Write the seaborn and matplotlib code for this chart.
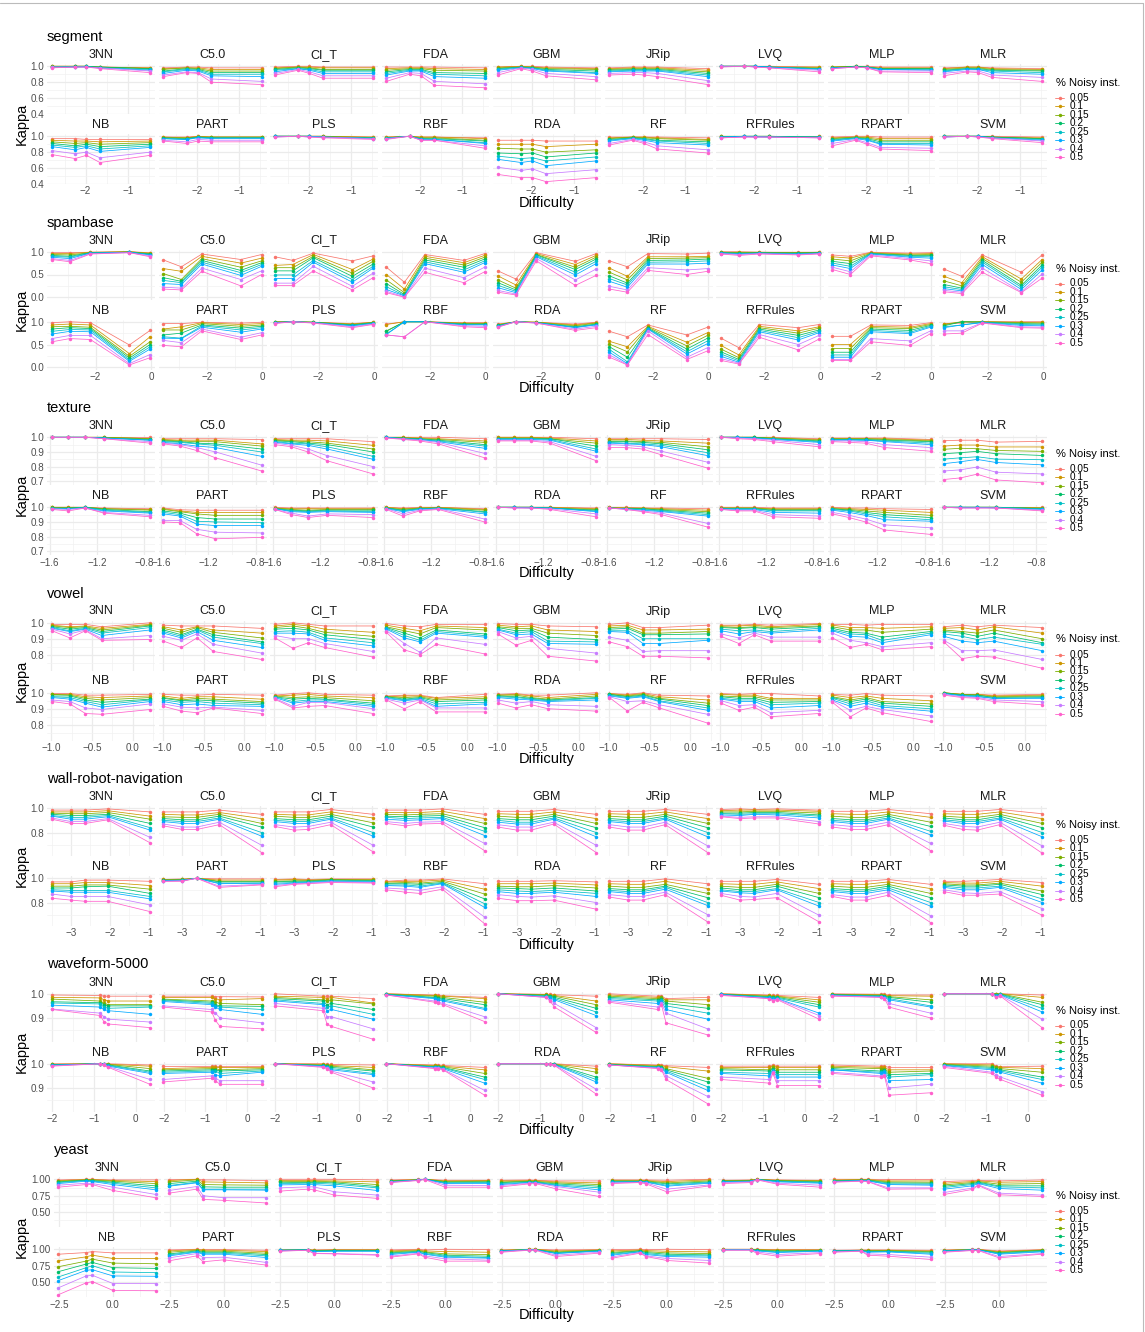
import numpy as np
import pandas as pd
import matplotlib
matplotlib.use("Agg")
import matplotlib.pyplot as plt
import seaborn as sns
from matplotlib.lines import Line2D

sns.set_theme(style="white")
plt.rcParams['font.family'] = ['Liberation Sans', 'DejaVu Sans']

W, H = 1145, 1332

classifiers = ["3NN", "C5.0", "CI_T", "FDA", "GBM", "JRip", "LVQ", "MLP", "MLR",
               "NB", "PART", "PLS", "RBF", "RDA", "RF", "RFRules", "RPART", "SVM"]
noise_levels = ["0.05", "0.1", "0.15", "0.2", "0.25", "0.3", "0.4", "0.5"]
palette = ["#F8766D", "#CD9600", "#7CAE00", "#00BE67", "#00BFC4", "#00A9FF", "#C77CFF", "#FF61CC"]
datasets = ["segment", "spambase", "texture", "vowel", "wall-robot-navigation", "waveform-5000", "yeast"]

# ---------------- data (Kappa x 100, one string per noise level, one value per difficulty point)
segment_x = [-2.80, -2.25, -1.98, -1.66, -0.47]
segment_kappa = {
 "3NN": ["100 100 100 99 98", "100 100 100 99 98", "100 100 100 99 97", "99 100 100 99 97", "99 99 100 98 96", "99 99 99 98 95", "99 99 99 98 94", "98 99 99 97 92"],
 "C5.0": ["98 99 99 98 98", "97 98 98 96 96", "96 98 97 94 94", "94 97 96 92 92", "93 96 95 90 90", "91 95 94 88 87", "89 93 92 84 81", "87 92 91 80 77"],
 "CI_T": ["99 100 100 99 99", "98 99 99 98 98", "97 99 98 96 96", "96 98 97 95 95", "95 97 96 93 93", "93 97 95 91 91", "91 96 93 88 88", "89 95 91 85 85"],
 "FDA": ["99 99 99 99 98", "97 98 98 97 96", "95 97 97 95 94", "93 96 96 92 91", "91 95 95 90 88", "89 94 94 87 85", "85 92 91 81 78", "81 90 88 76 73"],
 "GBM": ["99 100 100 99 98", "99 100 99 98 97", "98 99 99 97 96", "97 99 98 96 94", "96 99 98 95 92", "95 98 97 94 91", "92 98 96 91 87", "89 97 94 88 83"],
 "JRip": ["98 99 99 99 97", "97 98 98 98 95", "96 97 97 97 93", "95 96 96 96 91", "94 95 95 95 89", "93 94 94 94 87", "91 92 92 91 82", "89 90 89 87 77"],
 "LVQ": ["100 100 100 100 99", "100 100 100 99 99", "100 100 100 99 98", "100 100 100 99 97", "100 100 100 99 97", "100 100 100 99 96", "100 100 99 98 95", "99 100 99 98 93"],
 "MLP": ["99 100 100 99 99", "99 100 99 98 98", "99 100 99 97 97", "98 100 99 97 97", "98 99 99 96 96", "98 99 98 96 95", "97 99 98 94 94", "97 99 98 93 92"],
 "MLR": ["98 99 99 98 97", "97 99 99 97 96", "96 98 98 96 95", "95 97 97 95 94", "94 97 96 94 92", "93 96 96 92 90", "91 94 94 89 86", "88 93 92 86 81"],
 "NB": ["97 97 96 96 96", "95 94 94 93 94", "93 91 92 90 92", "91 88 90 87 90", "89 86 88 84 88", "87 83 86 81 86", "82 78 80 73 80", "77 72 76 67 76"],
 "PART": ["99 99 100 99 99", "99 98 100 99 99", "98 98 99 99 99", "98 97 99 98 98", "97 96 99 98 98", "97 96 98 97 97", "95 93 96 95 95", "94 91 94 93 93"],
 "PLS": ["100 100 100 100 99", "100 100 100 100 99", "100 100 100 100 98", "100 100 100 99 98", "100 100 100 99 98", "100 100 100 99 97", "99 100 99 99 97", "99 100 99 98 96"],
 "RBF": ["99 100 99 99 98", "99 100 99 99 97", "98 100 98 98 95", "98 100 97 97 94", "98 100 97 96 92", "97 100 96 96 91", "97 100 95 95 88", "96 100 95 95 85"],
 "RDA": ["95 95 95 94 94", "90 90 90 87 90", "85 84 84 80 83", "79 78 79 74 79", "75 72 73 69 74", "71 67 69 63 69", "61 57 59 53 58", "52 48 48 43 48"],
 "RF": ["99 99 99 99 98", "98 99 99 98 96", "97 99 98 97 95", "96 98 97 95 93", "95 98 96 94 91", "94 97 95 92 89", "91 96 93 88 83", "89 95 91 84 79"],
 "RFRules": ["100 100 100 100 100", "100 100 100 100 100", "100 100 100 100 99", "99 100 100 100 99", "99 100 100 99 99", "99 100 99 99 99", "98 99 99 99 98", "98 99 99 99 98"],
 "RPART": ["99 100 100 99 99", "98 99 99 97 97", "97 99 98 95 95", "96 98 97 93 93", "95 98 96 91 91", "94 97 95 90 89", "91 96 92 86 85", "88 95 90 84 82"],
 "SVM": ["100 100 100 100 99", "100 100 100 99 98", "100 100 100 99 97", "100 100 100 99 97", "100 100 100 98 96", "99 100 100 98 95", "99 100 99 98 94", "99 100 99 97 92"],
}

spambase_x = [-3.58, -2.93, -2.19, -0.78, -0.03]
spambase_kappa = {
 "3NN": ["98 98 99 100 98", "96 96 99 100 97", "94 93 98 100 96", "92 90 98 99 95", "90 88 97 99 94", "88 85 97 99 93", "85 81 96 98 91", "83 78 95 98 89"],
 "C5.0": ["82 67 95 83 94", "63 57 90 75 86", "52 39 85 66 80", "43 35 81 59 76", "37 32 77 54 72", "30 28 73 48 68", "22 20 64 39 58", "18 16 57 25 50"],
 "CI_T": ["89 81 97 80 91", "70 72 94 61 84", "65 65 90 53 79", "58 58 87 46 73", "49 49 81 39 68", "41 41 77 33 64", "31 31 68 24 53", "26 26 58 16 43"],
 "FDA": ["66 33 94 81 96", "50 18 90 76 92", "38 10 86 71 88", "30 6 82 66 84", "23 4 78 60 80", "17 3 74 55 76", "13 1 64 43 66", "10 0 55 32 56"],
 "GBM": ["58 40 98 79 96", "47 27 96 72 92", "38 20 94 66 88", "32 16 93 61 84", "26 13 91 55 79", "21 10 89 49 74", "15 7 85 38 62", "11 5 80 26 48"],
 "JRip": ["80 67 96 95 97", "64 46 89 89 90", "55 38 85 86 87", "47 31 81 82 84", "41 27 77 78 80", "35 22 73 73 75", "24 16 65 60 63", "18 11 59 50 57"],
 "LVQ": ["100 100 99 99 99", "99 99 99 98 99", "99 98 98 98 98", "98 97 98 97 98", "98 96 97 96 97", "97 95 97 95 97", "96 94 96 94 96", "95 92 95 93 95"],
 "MLP": ["93 90 99 97 98", "89 86 98 95 96", "84 80 97 93 94", "79 74 96 92 92", "75 68 96 90 89", "71 63 95 88 86", "66 56 93 85 80", "61 50 91 82 74"],
 "MLR": ["62 46 93 55 93", "46 32 89 40 83", "36 25 85 33 77", "28 20 81 26 71", "23 17 77 22 66", "19 14 72 17 60", "15 11 64 12 51", "12 8 55 10 42"],
 "NB": ["98 100 98 49 81", "93 95 93 30 67", "89 90 88 24 56", "84 87 85 20 50", "79 83 82 16 45", "73 79 78 13 40", "63 70 70 8 28", "56 63 61 5 21"],
 "PART": ["96 96 99 97 99", "84 89 98 94 96", "82 82 96 90 93", "71 75 93 86 90", "67 64 91 82 87", "64 63 88 77 84", "59 54 84 66 76", "48 45 80 61 71"],
 "PLS": ["100 100 99 96 99", "100 100 99 95 99", "99 100 99 94 98", "99 100 99 93 98", "98 100 98 92 97", "98 100 98 91 96", "97 100 98 89 95", "96 100 97 87 94"],
 "RBF": ["95 100 100 98 98", "94 100 100 97 97", "80 100 100 96 96", "79 100 100 95 95", "73 100 100 94 94", "72 100 100 93 93", "71 67 100 91 90", "71 67 100 89 87"],
 "RDA": ["95 100 99 95 99", "94 100 99 93 98", "93 100 99 91 97", "92 100 98 89 95", "91 100 98 88 94", "90 100 98 87 93", "89 100 97 84 90", "88 100 97 81 87"],
 "RF": ["79 67 93 71 88", "57 45 90 55 76", "51 34 88 47 70", "45 22 86 40 64", "39 12 85 34 58", "33 8 84 29 52", "27 6 80 22 43", "22 5 72 17 36"],
 "RFRules": ["64 43 94 87 94", "48 27 90 80 89", "40 21 87 75 86", "34 17 84 70 82", "29 14 81 65 79", "24 11 78 60 76", "19 9 72 50 70", "15 7 66 38 62"],
 "RPART": ["68 68 93 92 98", "50 50 90 88 96", "41 41 87 85 94", "33 33 84 81 92", "27 27 81 77 90", "22 22 78 74 88", "17 17 63 58 80", "15 15 56 48 74"],
 "SVM": ["96 97 100 100 100", "95 100 100 99 99", "93 100 100 98 97", "91 100 99 96 95", "89 93 99 94 93", "87 93 98 92 91", "80 80 98 89 88", "73 75 97 87 86"],
}

texture_x = [-1.58, -1.44, -1.30, -1.14, -0.75]
texture_kappa = {
 "3NN": ["100 100 100 100 100", "100 100 100 100 99", "100 100 100 100 99", "100 100 100 99.5 98.5", "100 100 100 99.5 98", "100 100 100 99.5 98", "100 100 100 99 97", "100 100 100 99 96"],
 "C5.0": ["99 99 99 99 98.4", "98.5 98 98 98 95.5", "98 97.5 97 97 94", "97.5 97 96 95.5 92", "97 96.5 95.5 94.5 90", "96.5 95.5 94 93 87", "96 95 93 90 81", "95.5 94 91 86 77"],
 "CI_T": ["99 99 99 99 97", "98.5 98 98 97.5 94.5", "98 97.5 97 96 92", "97.5 97 96 95 90", "97 96 95.5 93.5 87", "96.5 95.5 94.5 92 85", "96 94.5 92 87.5 80", "95 93.5 90 84 75"],
 "FDA": ["100 100 100 100 99", "100 100 99.5 99 97.5", "100 99.5 99 98.5 96.5", "100 99.5 99 98 95", "100 99 98.5 97.5 94", "100 99 98.5 97 92.5", "99.5 99 98 96.5 89", "99.5 98.5 97.5 95.5 86"],
 "GBM": ["100 100 100 100 99", "100 100 100 99.5 97.5", "99.5 99.5 99.5 99 96", "99 99 99 99 94", "99 99 99 98.5 92", "98.5 98.5 98.5 98 90.5", "98 98 98 97 87", "97.5 97.5 97.5 96 84"],
 "JRip": ["99 99 99 99 98.5", "98.5 98.5 98 97.5 96", "97.5 97.5 97 96.5 93.5", "97 97 96.5 95.5 91.5", "96.5 96 95.5 94.5 89.5", "96 95.5 95 93.5 87.5", "95 94.5 93.5 90.5 83", "93 93 92 88 79"],
 "LVQ": ["100 100 100 100 99", "100 100 100 99.5 98.5", "100 100 100 99.5 98", "100 100 100 99 97.5", "100 100 99.5 99 97", "100 100 99.5 98.5 96.5", "100 99.5 99 98 95", "100 99 98.5 97 93.5"],
 "MLP": ["99.5 99.5 99.5 99.5 98.5", "99 99 99 99 98", "99 99 99 98.5 97.5", "98.5 98.5 98.5 98 97", "98.5 98.5 98 97.5 96", "98 98 98 97 95", "97.5 97.5 97 95 93", "97 96.5 96 93 90.5"],
 "MLR": ["97.7 98 98 96.7 97.2", "94 94.7 94.7 93.4 93.4", "91.8 92.5 92.2 91 90.4", "88.8 89.5 90.4 88.8 87.6", "85.1 86 86.7 85.1 84.7", "82 83.3 84.9 82.8 81.2", "77 77.8 79.7 76.2 75", "71.2 72.3 74.8 70.9 69"],
 "NB": ["100 100 100 99.5 99", "100 100 100 99 98.5", "100 99.5 100 99 98", "99.5 99.5 100 98.5 97", "99.5 99 100 98 96.5", "99 99 99.5 97.5 96", "99 98.5 99.5 96.5 94.5", "98.5 97.5 99.5 96 93.5"],
 "PART": ["99.5 98.3 98 98 98", "99 97.5 96.5 96.5 96.5", "98.5 97 95.5 94.5 94.5", "97.5 96 93 92 92", "96.5 95 90.5 90 89.5", "95.5 94 88.5 87.5 87.5", "91 91 85 83 82.5", "90 89.5 82 78.5 79.5"],
 "PLS": ["100 99.5 99.5 99.5 99.5", "99.5 99 99 99 99", "99.5 98.5 98 98.5 98.5", "99 98 97.5 98 98", "99 97.5 97 97.5 97", "99 97 96.5 97 96.5", "98.5 96 94 95.5 95", "98.5 95 93 94.5 93"],
 "RBF": ["100 99.5 100 100 99", "100 99 99.5 100 98.5", "99.5 98.5 99.5 99.5 98", "99.5 98 99 99.5 97", "99.5 97.5 99 99.5 96.5", "99 97 98.5 99 95.5", "99 95.5 98 99 92", "98.5 94 97.5 98.5 90"],
 "RDA": ["100 100 100 100 99.5", "100 100 100 100 99", "100 100 100 99.5 98.5", "100 100 100 99.5 98", "100 100 100 99.5 97.5", "100 100 99.5 99.5 97", "100 99.5 99.5 99 95.5", "100 99.5 99.5 98.5 93.5"],
 "RF": ["100 100 99.5 99.5 99", "100 99.5 99.5 99 98", "99.5 99.5 99 98.5 97", "99.5 99 99 98 96", "99.5 99 98.5 97.5 95", "99.5 99 98 97 94", "99.5 98.5 97.5 96 89", "99.5 98.5 97 95 86.5"],
 "RFRules": ["100 100 100 99.5 99.5", "99.5 99.5 99.5 99 99", "99.5 99.5 99.5 98.5 98.5", "99 99 99 98 98", "99 99 99 97.5 97.5", "99 98.5 98.5 96.5 96", "98.5 98 98 95 94", "98.5 97.5 97.5 93.5 92.5"],
 "RPART": ["100 99.5 99.5 99 98.5", "99.5 99 98.5 98 96.5", "99 98.5 97.5 96.5 94.5", "99 98 96.5 95 93", "98.5 97.5 95.5 93.5 91.5", "98 96.5 94.5 91.5 90.5", "96.5 94.5 92 88 86", "95.5 93 90 84.5 81.5"],
 "SVM": ["100 100 100 100 100", "100 100 100 100 99.5", "100 100 100 100 99.5", "100 100 100 100 99", "100 100 100 100 99", "100 100 100 99.5 98.5", "100 99.5 99.5 99.5 98", "100 99.5 99.5 99.5 97.5"],
}

vowel_x = [-0.99, -0.77, -0.58, -0.38, 0.21]
vowel_kappa = {
 "3NN": ["99 99 99 97.5 100", "98.5 97.5 98 96.5 99", "98 97 97.5 95.5 98.5", "97.5 96 97 94.5 98", "97 95 96.5 93.5 97", "96.5 94.5 96 92 95.5", "96 93 95.5 90 92", "95 90.5 95 89 89.5"],
 "C5.0": ["98.5 98 98 98 96.5", "97.5 95.5 97.5 95.5 93.5", "96.5 94 97 94 90.5", "95.5 92.5 96 92.5 88", "94.5 91.5 95.5 91 87", "93.5 90.5 94.5 89 84.5", "91.5 89 93 86.5 81", "88.5 84.5 90.5 82 77"],
 "CI_T": ["99 100 99 98 98", "98 99 98 96 94", "97 98 96.5 94 91.5", "96 96.5 95.5 92.5 89.5", "94.5 95 94 90.5 87.5", "93.5 93.5 93 89 85.5", "92 90 90 87 82", "90.5 84 87.5 84.5 78.5"],
 "FDA": ["99.5 98 97.5 99 99", "98.5 96.5 95 98 97", "97.5 95 93 97 95.5", "97 93.5 90.5 95.5 93", "96.5 92 89 94.5 92", "96 90.5 88 93.5 91", "95 87 81.5 90.5 86.5", "94 83 80 86.5 80.5"],
 "GBM": ["99.5 99 99 98 97.5", "98.5 97.5 98 95.5 94.5", "97.5 96.5 96.5 93.5 92", "97 95 95.5 91 89.5", "96 93.5 94.5 88.5 88", "95.5 92.5 93 87 86.5", "94.5 90.5 91.5 84 81", "93 86 89 79 76"],
 "JRip": ["99 100 97 97 98.5", "98 98.5 95.5 95.5 96", "97 97.5 93.5 93.5 94.5", "96 96.5 92.5 92.5 93", "95 95 90 90 90", "94.5 94 87 87 89", "91 89 82 82.5 82.5", "88 85 79 79 78"],
 "LVQ": ["98.5 98.5 99 98.5 99.5", "98 98 98.5 97.5 99", "97.5 97 97.5 97 98", "97 96.5 97 96 97.5", "96 95 95.5 94.5 96.5", "95 93 94.5 93.5 95.5", "93 90.5 93.5 91 91", "91.5 87 92.5 88.5 88.5"],
 "MLP": ["99 99 98.5 99 99", "98.5 97 97 96.5 97.5", "97.5 95.5 95.5 94 96", "96.5 94 93.5 91 94.5", "95.5 93 92.5 89 93.5", "95 91.5 91 87.5 92.5", "93.5 89 87.5 85 87.5", "90.5 84.5 86.5 83 85"],
 "MLR": ["97.5 98.5 97.5 98.5 97", "96.5 97 95.5 97.5 93.5", "95.5 94.5 93.5 95.5 90", "94.5 93.5 91.5 93.5 87.5", "93 91.5 89.5 91 86.5", "91.5 88.5 87.5 88.5 82.5", "89 82.5 82.5 83 77", "88 77.5 79 78.5 71.5"],
 "NB": ["99.5 99.5 98.5 98.5 99", "99 99 97.5 97 98", "99 98.5 96.5 95.5 97", "98 98 95.5 94 96", "97.5 97 94.5 92.5 95.5", "97 96 93.5 91 94.5", "95.5 94.5 90.5 89.5 93", "94.5 93 87 86.5 89.5"],
 "PART": ["99 98.5 98.5 99 98.5", "98 96.5 97.5 97.5 96", "97 95.5 96.5 96 94.5", "96.5 95 95.5 95 93.5", "95.5 94 94.5 93.5 92.5", "94.5 92.5 93 92 91.5", "93 91 90.5 91 89", "91.5 88.5 87.5 90.5 87"],
 "PLS": ["98.5 99.5 100 99 98.5", "98 98.5 99 98 97", "98 97 97.5 97 95", "97.5 96 96.5 96 93.5", "97.5 94.5 95.5 95.5 92.5", "97 93.5 94.5 94.5 91.5", "96.5 91.5 94 94 90", "96 90.5 91.5 92 87"],
 "RBF": ["98 98.5 98.5 97 99", "97.5 98 98 96.5 97.5", "97.5 97 97.5 95.5 96.5", "97.5 96 97 94.5 95.5", "97 95.5 96.5 93 94", "96.5 95 96 91.5 93", "96 93.5 95.5 90.5 90.5", "95.5 90 94.5 88 88"],
 "RDA": ["99 99.5 98.5 98.5 100", "98.5 99 98 97 99", "98.5 98.5 97 96 98", "98 97.5 96.5 95.5 97", "97.5 97 96 95 96.5", "97 96 95.5 94.5 95.5", "95.5 93.5 94.5 92.5 91.5", "93.5 90.5 92.5 90 88.5"],
 "RF": ["99.5 99 100 98.5 98", "99.5 98.5 99.5 97.5 95.5", "99 98 99 96.5 93.5", "99 97.5 98.5 96 92", "98.5 97 98 95 90.5", "98 96.5 97.5 94.5 89", "97.5 94.5 95 92.5 86.5", "97 88.5 94 90.5 81"],
 "RFRules": ["99.5 99 99.5 99.5 98", "99 98.5 98.5 96.5 96.5", "98 97.5 97.5 95.5 95.5", "97.5 96.5 96.5 94 94.5", "96.5 95.5 95.5 92.5 93.5", "96 94.5 94.5 90.5 92", "95 92 92.5 87.5 89", "93.5 89 91 85 87"],
 "RPART": ["99 98.5 99.5 98.5 98", "98.5 97 98 96.5 95", "97.5 95.5 97 94.5 93", "97 94.5 96 93.5 91.5", "96.5 93 95 92 90", "95.5 91.5 93.5 91 88.5", "95 89 91.5 89.5 85.5", "94 85 90.5 87.5 82"],
 "SVM": ["100 99 99 98.5 99", "100 99 99 98 98.5", "100 99 98.5 97.5 98", "100 98.5 98.5 97 97.5", "99.5 98.5 98 96.5 97", "99.5 98 97.5 96.5 96.5", "99 97.5 97 95.5 94.5", "98.5 97 96.5 94.5 92.5"],
}

wall_x = [-3.49, -3.0, -2.63, -2.05, -0.96]
wall_kappa = {
 "3NN": ["98.5 98.5 98.5 99.5 97", "97 97 97 98 93.5", "96 95.5 95.5 96.5 91", "95 94 94 95 87.5", "94 92.5 92.5 94 84", "93.5 91 91 93 82", "92 89 89 91.5 76", "91 87.5 87.5 90.5 71.5"],
 "C5.0": ["97 97 97 98.5 95", "95 94.5 94.5 96.5 91.5", "93 92.5 92.5 95 87.5", "91.5 90.5 90.5 93.5 84.5", "90 89 89 92 80", "89 87.5 87.5 91 77", "87 84.5 84.5 88.5 69.5", "85.5 82.5 82.5 86.5 63.5"],
 "CI_T": ["97 97 97 99 95", "95 94.5 94.5 97 92", "93.5 92.5 92.5 95 88", "91.5 90.5 90.5 93.5 84.5", "90 89 89 92 80", "89 87.5 87.5 91 77", "86.5 84.5 85 88.5 69.5", "85 82 82.5 86.5 64"],
 "FDA": ["98.5 98.5 98.5 99.5 95", "96.5 96.5 96.5 97.5 91.5", "95 94.5 95 95.5 87.5", "93.5 93 93.5 94 84", "92.5 91.5 92 92.5 81", "91 90 90.5 91.5 77.5", "89 87.5 88.5 89 71", "87.5 85.5 87 87.5 65"],
 "GBM": ["97.5 97.5 97.5 99 95", "95.5 95 95 97 91.5", "93.5 92.5 92.5 95 87.5", "91.5 90.5 90.5 93.5 84", "90 88.5 88.5 92 80", "88.5 87 87 91 76.5", "86.5 84.5 84.5 88.5 69.5", "84.5 82 82 87 63.5"],
 "JRip": ["97.5 97.5 97.5 99 95", "95.5 95 95 97 91.5", "93.5 92.5 92.5 95 87.5", "91.5 90.5 90.5 93.5 84", "90 89 89 92 80", "89 87.5 87.5 91 76.5", "86.5 84.5 84.5 88.5 69", "84.5 82 82 86.5 63.5"],
 "LVQ": ["99 99.5 99 99.5 98.5", "98 98.5 98.5 98.5 97.5", "97 97 97.5 97.5 96", "96 96 96.5 96.5 94.5", "95.5 95 95.5 95.5 93.5", "94.5 94 95 94.5 92", "93.5 92.5 93 93 89", "93 91.5 92 92 87"],
 "MLP": ["97.5 97.5 97.5 99 95.5", "95.5 95 95 97 92.5", "93.5 92.5 92.5 95 88.5", "91.5 90.5 90.5 93.5 85", "90 89 89 92 81", "89 87.5 87.5 91 78", "86.5 85 85 88.5 71", "84.5 82.5 82.5 86.5 65"],
 "MLR": ["97.5 97.5 97.5 99 95.5", "95.5 95 95 97 91.5", "93.5 92.5 92.5 95 87.5", "92 90.5 90.5 93.5 84", "90.5 89 89 92 80", "89.5 87.5 87.5 91 76.5", "87.5 85 84.5 88.5 69", "86 82.5 82 86.5 63"],
 "NB": ["97 97 98.5 98.5 97.5", "95.5 95.5 96.5 96.5 94", "93.5 93.5 94.5 94.5 91", "92 92 93 93.5 87.5", "90.5 90 90 90 85", "89.5 88.5 88.5 88.5 83", "87 85 85 85 78", "83.5 82 81 81 72.5"],
 "PART": ["99 99.5 100 99.5 99.5", "99 99 100 98.5 98.5", "98.5 99 100 97.5 97.5", "98.5 98.5 100 97 97", "98 98.5 100 96 96", "98 98 100 95.5 96", "97.5 98 100 93.5 95", "97.5 97.5 100 92.5 94.5"],
 "PLS": ["99 99.5 99 99.5 99.5", "98.5 99 98.5 99 99", "97.5 98 98 99 98.5", "97 97.5 97.5 98.5 98", "96 96.5 97 98 97.5", "95 96 96.5 97.5 97", "94 95.5 96 97 96.5", "93 95 95.5 96.5 96"],
 "RBF": ["97.5 98.5 98.5 99.5 95.5", "97 97.5 97.5 98.5 91", "96 96.5 96 97.5 87", "95.5 95.5 95 96.5 83", "94.5 94.5 93.5 96 79", "94 93.5 92.5 95.5 76", "92 91 90 93 68", "90.5 88.5 87.5 91 62.5"],
 "RDA": ["97.5 97.5 97.5 98 97", "95.5 95.5 95.5 96 94.5", "93.5 93 93 94 92", "92 91.5 91 92 89.5", "90.5 89.5 89 90 87.5", "89 87.5 87.5 88.5 85", "86.5 85 84.5 85.5 80", "83.5 81.5 81.5 82 74.5"],
 "RF": ["97.5 97.5 97.5 99.5 95.5", "95.5 95 95 97.5 91.5", "93.5 92.5 92.5 95 87.5", "91.5 90.5 90.5 93.5 84", "90 89 89 92.5 80", "89 87.5 87.5 91 77.5", "86.5 85 85 88.5 70", "84.5 82 82 86.5 64"],
 "RFRules": ["97.5 97.5 97.5 99 95", "95.5 95 95 97 91.5", "93.5 92.5 92.5 95 87.5", "92 90.5 90.5 93.5 84", "90.5 89 89 91.5 80", "89.5 88 87.5 90.5 77", "87.5 85 84.5 87.5 69.5", "86 82 82.5 84 64"],
 "RPART": ["97.5 97.5 97.5 99 95", "95.5 95 95 97 91.5", "93.5 92.5 92.5 95 87.5", "91.5 90.5 90.5 93.5 84", "90 89 89 92 80", "89 87.5 87.5 90.5 77", "86.5 84.5 84.5 88.5 69", "85 82 82 86 63.5"],
 "SVM": ["97.5 97.5 98 99 96.5", "96.5 96 96 97.5 93.5", "95.5 94.5 94.5 96 89.5", "94.5 93.5 93.5 95 86.5", "93.5 92 92 93.5 83", "92.5 90.5 90.5 92.5 80", "90.5 88 87.5 89 75", "89 86 86 87 69.5"],
}

waveform_x = [-2.01, -0.85, -0.76, -0.65, 0.35]
waveform_kappa = {
 "3NN": ["99.5 99.3 99 99 99", "98.5 98.3 97.5 97 97", "97.8 97 96 95.5 95.5", "96.7 96.3 95.5 95 95", "96.2 95.8 94.5 94 94.5", "95.3 94.5 93.5 93 91.5", "93.7 92 90.5 89.5 88.3", "93.5 91 88.5 87.5 86"],
 "C5.0": ["99 99 98.8 98.8 98.7", "98.5 98.5 98 97.5 98", "97.8 97 96.5 96 95.5", "97.5 96.5 95.5 95 94.8", "97.2 96 95 94.5 93.5", "96.8 95.5 94.5 93.5 91.5", "95 93.5 92 90 88", "94.5 92.5 89 86.5 85.5"],
 "CI_T": ["100 99 99 99 98", "99 98.5 98 98.5 96.2", "98.5 97.5 97 97.5 95.8", "98 97 95.5 96 93.5", "97.5 96 94.5 95 91.5", "97 95.5 93 93.5 89.5", "96 94 90.5 90.5 85.5", "95 93 87.5 86.5 81.2"],
 "FDA": ["100 99.5 99.3 99.2 98.5", "100 99.3 99 99 98", "99.8 99 98.7 98.5 96.5", "99.8 98.5 98.3 98 95.5", "99.7 98.3 98 97.5 94", "99.6 98 97.5 97 93.5", "99.5 97 96.5 96 90.5", "99.5 96.5 96 95.5 88.5"],
 "GBM": ["100 99.8 99.7 99.6 99", "100 99.7 99.5 99.3 97", "100 99.5 99.2 99 95.5", "100 99.3 99 98.5 94", "100 99 98.7 98 92.5", "100 98.8 98.3 97.5 91", "100 98.5 97.5 96 86", "100 98.5 97 94.5 84"],
 "JRip": ["100 99 99 98 98.5", "99.5 98.5 98.5 97.5 97.5", "99 98 98.5 97 95.5", "98.5 97.5 98 96 94", "98 97 97.5 95 92", "97.5 96 97 93.5 89.5", "97 94.5 96 92 85.5", "96.5 93.5 95.5 88 83"],
 "LVQ": ["100 99.5 99.3 99.3 98.5", "100 99.3 99 99 97.5", "99.8 99 98.8 98.8 96.5", "99.8 98.8 98.5 98.5 95.5", "99.7 98.5 98.2 98.2 94.5", "99.7 98.3 98 98 92", "99.5 98 97.5 97.8 91", "99.3 98 97 97.5 89.5"],
 "MLP": ["100 99.8 99.7 99.5 99.5", "99.8 99.6 99.5 99.2 99", "99.7 99.4 99.2 98.8 97.5", "99.6 99.2 99 98.5 96.5", "99.5 99 98.7 98 95", "99.4 98.8 98.5 97.5 94.5", "99.2 98.6 98.2 96 92", "99 98.5 98 94.5 90"],
 "MLR": ["100 100 100 100 99.5", "100 100 100 100 98.5", "100 100 99.8 100 96.5", "100 100 99.5 99.8 95.5", "100 100 99.3 99.7 94", "100 100 99 99.5 92.5", "100 100 98.8 99.3 89.5", "100 100 98.5 99 86"],
 "NB": ["100 100 100 100 99.5", "99.8 100 100 99.8 99", "99.7 100 100 99.7 98", "99.6 100 100 99.5 97", "99.5 100 99.8 99.3 96.5", "99.4 100 99.8 99 96", "99.2 100 99.7 98.8 93.5", "99 100 99.5 98.5 91.5"],
 "PART": ["99 99 99 99 99", "98 98.5 98.5 98.5 98.5", "97.5 98 98 97.5 98", "97 97.5 97.5 97 97.5", "96.5 97 97 96 97", "96 96.5 95.5 95 96.5", "93.5 95 94 93 93", "92.5 94 93 91.5 91.5"],
 "PLS": ["100 100 99.8 99.7 99.5", "100 99.8 99.5 99.3 98.5", "100 99.5 99.3 99 97.5", "100 99.3 99 98.5 97", "100 99.2 98.8 98 96", "100 99 98.5 97.5 95.5", "100 98.8 98.3 97 92.5", "100 98.5 98 96.5 90"],
 "RBF": ["100 99.5 99.5 99.3 98.5", "100 99.3 99.2 99 97.5", "100 99 99 98.8 96", "100 98.8 98.8 98.5 94.5", "100 98.7 98.6 98.3 93.5", "100 98.5 98.4 98 92", "100 98.2 98.2 97.7 89", "100 98 98 97.5 87"],
 "RDA": ["100 100 100 100 99", "100 100 100 99.9 98", "100 100 100 99.8 96.5", "100 100 100 99.8 94.5", "100 100 100 99.7 93.5", "100 100 100 99.6 92.5", "100 100 100 99.5 89.5", "100 100 100 99.3 87.5"],
 "RF": ["100 99.5 99.5 99.2 98.5", "100 99.3 99.2 98.8 97", "99.8 99 98.8 98 94", "99.7 98.8 98.5 97.5 92.5", "99.6 98.6 98.2 97 90.5", "99.5 98.4 98 96.5 89", "99.5 98.2 97.7 95 86.5", "99.5 98 97.5 93.5 83.5"],
 "RFRules": ["99 99 99.3 99 99", "98.5 98.5 99 98.5 98.5", "98 97.5 98.5 97.5 97.5", "97.5 97 98 96.5 96.5", "96.5 96 97.5 95.5 95.5", "96 95 97 94.5 94.5", "94.5 93.5 96.5 93 93", "93.5 92 96 91 91"],
 "RPART": ["99.5 99 99 98.5 98.5", "99 98.5 98.5 97.5 97.5", "98.5 98 98 96.5 97", "98 97 97.5 95.5 96", "97.5 96.5 97 94.5 95.5", "97.5 96 96.5 93 93.5", "96.5 95 95.5 90 91.5", "96 94.5 95 87 88"],
 "SVM": ["100 100 99 98.8 99", "100 99.5 98.8 98.5 98", "99.8 99 98.5 98 96.5", "99.6 98.5 98 97.5 94.5", "99.4 98 97.5 97 93.5", "99.2 97.5 97 96.5 92", "99 96.5 95.5 94.5 88.5", "98.5 96 94.5 93.5 87"],
}

yeast_x = [-2.52, -1.24, -0.95, 0.0, 1.97]
yeast_kappa = {
 "3NN": ["99 100 100 99 99", "98 99.5 99.5 98 96.5", "97 99 99 97 93.5", "96 98.5 98 95.5 90", "95 98 97.5 94 87", "93.5 97 96.5 92 84", "91 94 93.5 88 77", "88 92 92 83 72"],
 "C5.0": ["99.5 100 99 99 98", "98 100 96 95.5 94.5", "96 99 92 91.5 91", "93.5 97 88.5 88 88", "90.5 95.5 85 85 85", "89.5 94.5 84 84 83.5", "83 89 75 72 72", "79 85 69.5 68 64"],
 "CI_T": ["100 100 100 100 99", "98 98 98 97.5 96", "97 96.5 97 96 92", "95.5 95 95.5 94.5 89", "93.5 94 94 92.5 87", "91.5 92 92 90 83", "87 88.5 88.5 81 76", "82 85 84 76 71"],
 "FDA": ["99 100 100 98.5 98.5", "98 99.5 100 97.5 98", "97.5 99 100 96.5 97", "97 99 100 95.5 96", "96.5 99 100 94.5 95", "96 98.5 100 93.5 93.5", "95.5 98.5 100 91 90.5", "95 98 99.5 88 88"],
 "GBM": ["98.5 99 98.5 97.5 97.5", "97.5 98 98 96 94.5", "96 97 97 94.5 92", "95 96.5 96 93 89.5", "93.5 95.5 95.5 91.5 87", "92 95 95 90.5 84", "90.5 94 94.5 89 80.5", "88.5 93 93.5 85.5 74"],
 "JRip": ["99 99 99 98.5 100", "98.5 98.5 98 96.5 99", "97.5 97.5 97.5 94.5 97.5", "97 97 96.5 93 96", "96 96.5 96 91 95", "95.5 96 95.5 89.5 94", "94.5 95.5 94.5 85 91.5", "93.5 95 93 81 90"],
 "LVQ": ["98.5 99 100 99 98.5", "98 98.5 100 98.5 98", "97.5 98 99.5 98 97", "97 97.5 99.5 97.5 96", "96.5 97 99.5 97 95", "96 96.5 99.5 96 94", "95 96 99.5 94 91", "93.5 95 99 92.5 88"],
 "MLP": ["100 100 100 99.5 99.5", "99 99.5 99.5 97.5 97.5", "98 99 99 96 95.5", "97.5 98.5 98.5 94.5 94", "97 98 98 93 92.5", "96.5 98 97.5 92 91", "96 97.5 97 87 87", "95.5 97 96.5 85 85.5"],
 "MLR": ["96.5 98 98.5 97.5 99", "94 96.5 97.5 95.5 96.5", "91.5 95 96.5 92.5 93.5", "89.5 93.5 95.5 90 90", "87.5 92 94.5 88.5 87", "85 90 93.5 86 83.5", "80 86.5 91.5 79 76", "77 84.5 90.5 76.5 74"],
 "NB": ["92.5 95 96.5 94.5 94.5", "82.5 88.5 91 86 86", "73.5 82 85 79 78", "66 77.5 80 72 71", "58 72 75 65.5 64.5", "52.5 68 69 59.5 59", "41.5 59.5 60.5 48 48", "31 49 51 37.5 37"],
 "PART": ["99 100 99.5 99.5 98.5", "97.5 99.5 98.5 98.5 96.5", "95.5 98.5 97 97 94", "93 97.5 95.5 95.5 92", "91.5 96.5 94 94 90", "90 95.5 92.5 92.5 87.5", "87 93.5 87.5 88 80", "82.5 90 81 84 76"],
 "PLS": ["99 99.5 99 99.5 99.5", "99 99.5 98.5 99 99", "98.5 99.5 98 98.5 98.5", "98.5 99 97.5 98 98", "98.5 99 97 97.5 97.5", "98.5 99 96.5 97 97", "97.5 98.5 94 93.5 92", "97 98.5 93.5 93 91"],
 "RBF": ["99 100 99 100 99.5", "97.5 99 97.5 96.5 95.5", "96 98 96 93 92", "94.5 97 95 91 89.5", "93.5 96 93.5 89.5 87.5", "92 95.5 92.5 88 86.5", "89.5 94 90 85.5 83.5", "88 93 88 82 82"],
 "RDA": ["99 100 100 99 99.5", "98.5 100 100 97.5 99", "98 99.5 99.5 96 98.5", "97.5 99.5 99.5 95 98", "97.5 99.5 99.5 94 97.5", "97 99 99 93.5 97", "96.5 99 99 91 95.5", "95.5 98.5 98.5 89 94"],
 "RF": ["99.5 100 99.5 100 99.5", "97.5 99 98 97 96", "95.5 98 96.5 94.5 93.5", "94 97.5 95 92.5 91.5", "92.5 96.5 93.5 90.5 90", "91 96 92 89 88", "88.5 95 90 86 83", "86.5 94 89 83 79"],
 "RFRules": ["100 100 100 99.5 99.5", "100 100 99.5 99 99", "99.5 99.5 99 98 98.5", "99.5 99.5 98.5 97 98", "99.5 99.5 98 96 97.5", "99 99 97.5 95 97", "99 99 96 92 95", "98.5 98.5 94 89.5 93.5"],
 "RPART": ["98.5 99 99 99 98.5", "98 98.5 98.5 98.5 97.5", "98 98.5 98 98 96.5", "97.5 98 97 97 95.5", "97.5 98 96.5 96.5 94", "97 97.5 95.5 96 92.5", "96 97.5 93 92 88", "95.5 97 91 89.5 84.5"],
 "SVM": ["99 100 100 97.5 99.5", "98.5 99.5 99.5 96.5 99", "98 99.5 99.5 95.5 98.5", "98 99 99 94.5 98", "97.5 99 99 93.5 97", "97 99 99 92.5 96", "96 98.5 98.5 89 93.5", "95.5 98 98 87 92.5"],
}

# axis breaks per dataset
y_major = {"segment": [0.4, 0.6, 0.8, 1.0], "spambase": [0.0, 0.5, 1.0], "texture": [0.7, 0.8, 0.9, 1.0],
           "vowel": [0.8, 0.9, 1.0], "wall-robot-navigation": [0.8, 1.0], "waveform-5000": [0.9, 1.0],
           "yeast": [0.5, 0.75, 1.0]}
y_labels = {"segment": ["0.4", "0.6", "0.8", "1.0"], "spambase": ["0.0", "0.5", "1.0"],
            "texture": ["0.7", "0.8", "0.9", "1.0"], "vowel": ["0.8", "0.9", "1.0"],
            "wall-robot-navigation": ["0.8", "1.0"], "waveform-5000": ["0.9", "1.0"],
            "yeast": ["0.50", "0.75", "1.00"]}
x_major = {"segment": [-2, -1], "spambase": [-2, 0], "texture": [-1.6, -1.2, -0.8],
           "vowel": [-1.0, -0.5, 0.0], "wall-robot-navigation": [-3, -2, -1],
           "waveform-5000": [-2, -1, 0], "yeast": [-2.5, 0.0]}
x_labels = {"segment": ["\u22122", "\u22121"], "spambase": ["\u22122", "0"],
            "texture": ["\u22121.6", "\u22121.2", "\u22120.8"], "vowel": ["\u22121.0", "\u22120.5", "0.0"],
            "wall-robot-navigation": ["\u22123", "\u22122", "\u22121"], "waveform-5000": ["\u22122", "\u22121", "0"],
            "yeast": ["\u22122.5", "0.0"]}

all_x = {"segment": segment_x, "spambase": spambase_x, "texture": texture_x, "vowel": vowel_x,
         "wall-robot-navigation": wall_x, "waveform-5000": waveform_x, "yeast": yeast_x}
all_k = {"segment": segment_kappa, "spambase": spambase_kappa, "texture": texture_kappa, "vowel": vowel_kappa,
         "wall-robot-navigation": wall_kappa, "waveform-5000": waveform_kappa, "yeast": yeast_kappa}


def panel_frame(xs, rows):
    recs = []
    for lvl, s in zip(noise_levels, rows):
        vals = [float(v) / 100.0 for v in s.split()]
        for xi, yi in zip(xs, vals):
            recs.append((xi, yi, lvl))
    return pd.DataFrame(recs, columns=["Difficulty", "Kappa", "noise"])


def minor_breaks(major, lo, hi):
    step = major[1] - major[0]
    out = []
    m = major[0] - step / 2
    while m <= hi:
        if m >= lo and not any(abs(m - b) < 1e-9 for b in major):
            out.append(m)
        m += step
    return out


fig = plt.figure(figsize=(W / 100, H / 100), dpi=100)


def fx(px):
    return px / W


def fy(py):
    return 1 - py / H


GRAY_T = "#4D4D4D"
STRIP = "#1A1A1A"

for bi, ds in enumerate(datasets):
    t = 37 + 185.5 * bi
    xs = all_x[ds]
    kd = all_k[ds]
    frames = {c: panel_frame(xs, kd[c]) for c in classifiers}
    ymin = min(f["Kappa"].min() for f in frames.values())
    ymax = max(f["Kappa"].max() for f in frames.values())
    yr = ymax - ymin
    ylim = (ymin - 0.05 * yr, ymax + 0.05 * yr)
    xr = max(xs) - min(xs)
    xlim = (min(xs) - 0.05 * xr, max(xs) + 0.05 * xr)
    if ds == "yeast":
        left0, pitch, pw = 53.5, 110.75, 107.0
    else:
        left0, pitch, pw = 47.0, 111.5, 108.0
    ph = 50.0
    xmin_b = minor_breaks(x_major[ds], *xlim)
    ymin_b = minor_breaks(y_major[ds], *ylim)

    for ci, clf in enumerate(classifiers):
        row, col = divmod(ci, 9)
        left = left0 + col * pitch
        top = t + 27 + row * 70
        ax = fig.add_axes([fx(left), fy(top + ph), pw / W, ph / H])
        ax.set_facecolor("none")
        for sp in ax.spines.values():
            sp.set_visible(False)
        sns.lineplot(data=frames[clf], x="Difficulty", y="Kappa", hue="noise",
                     hue_order=noise_levels, palette=palette, marker="o",
                     markersize=2.5, markeredgewidth=0, linewidth=0.55,
                     legend=False, errorbar=None, ax=ax)
        ax.set_xlim(*xlim)
        ax.set_ylim(*ylim)
        ax.set_xticks(x_major[ds])
        ax.set_xticks(xmin_b, minor=True)
        ax.set_yticks(y_major[ds])
        ax.set_yticks(ymin_b, minor=True)
        ax.grid(True, which="major", color="#EBEBEB", linewidth=0.9)
        ax.grid(True, which="minor", color="#F2F2F2", linewidth=0.5)
        ax.set_axisbelow(True)
        ax.tick_params(which="both", length=0, labelsize=7.1, labelcolor=GRAY_T, pad=1.8)
        if row == 1:
            ax.set_xticklabels(x_labels[ds])
        else:
            ax.set_xticklabels([])
        if col == 0:
            ax.set_yticklabels(y_labels[ds])
        else:
            ax.set_yticklabels([])
        ax.set_xlabel("")
        ax.set_ylabel("")
        fig.text(fx(left + pw / 2), fy(top - 9), clf, ha="center", va="center",
                 fontsize=9, color=STRIP)

    # block texts
    fig.text(fx(left0), fy(t), ds, ha="left", va="center", fontsize=10.5, color="black")
    fig.text(fx(22), fy(t + 87), "Kappa", ha="center", va="center", rotation=90,
             fontsize=10.5, color="black")
    fig.text(fx(547), fy(t + 165.5), "Difficulty", ha="center", va="center",
             fontsize=10.5, color="black")
    # legend
    fig.text(fx(1056), fy(t + 46), "% Noisy inst.", ha="left", va="center", fontsize=8, color="black")
    for k, (lvl, col) in enumerate(zip(noise_levels, palette)):
        yy = t + 61 + 8.43 * k
        fig.add_artist(Line2D([fx(1055), fx(1064)], [fy(yy), fy(yy)], color=col,
                              linewidth=0.6, transform=fig.transFigure))
        fig.add_artist(Line2D([fx(1059.5)], [fy(yy)], color=col, marker="o", markersize=2.5,
                              markeredgewidth=0, linestyle="none", transform=fig.transFigure))
        fig.text(fx(1070), fy(yy), lvl, ha="left", va="center", fontsize=7.2, color="black")

# outer frame (top and right edges)
fig.add_artist(Line2D([0, fx(1143)], [fy(3), fy(3)], color="#BBBBBB", linewidth=0.8,
                      transform=fig.transFigure))
fig.add_artist(Line2D([fx(1143), fx(1143)], [fy(3), 0], color="#BBBBBB", linewidth=0.8,
                      transform=fig.transFigure))

fig.savefig("out.png", dpi=100)
